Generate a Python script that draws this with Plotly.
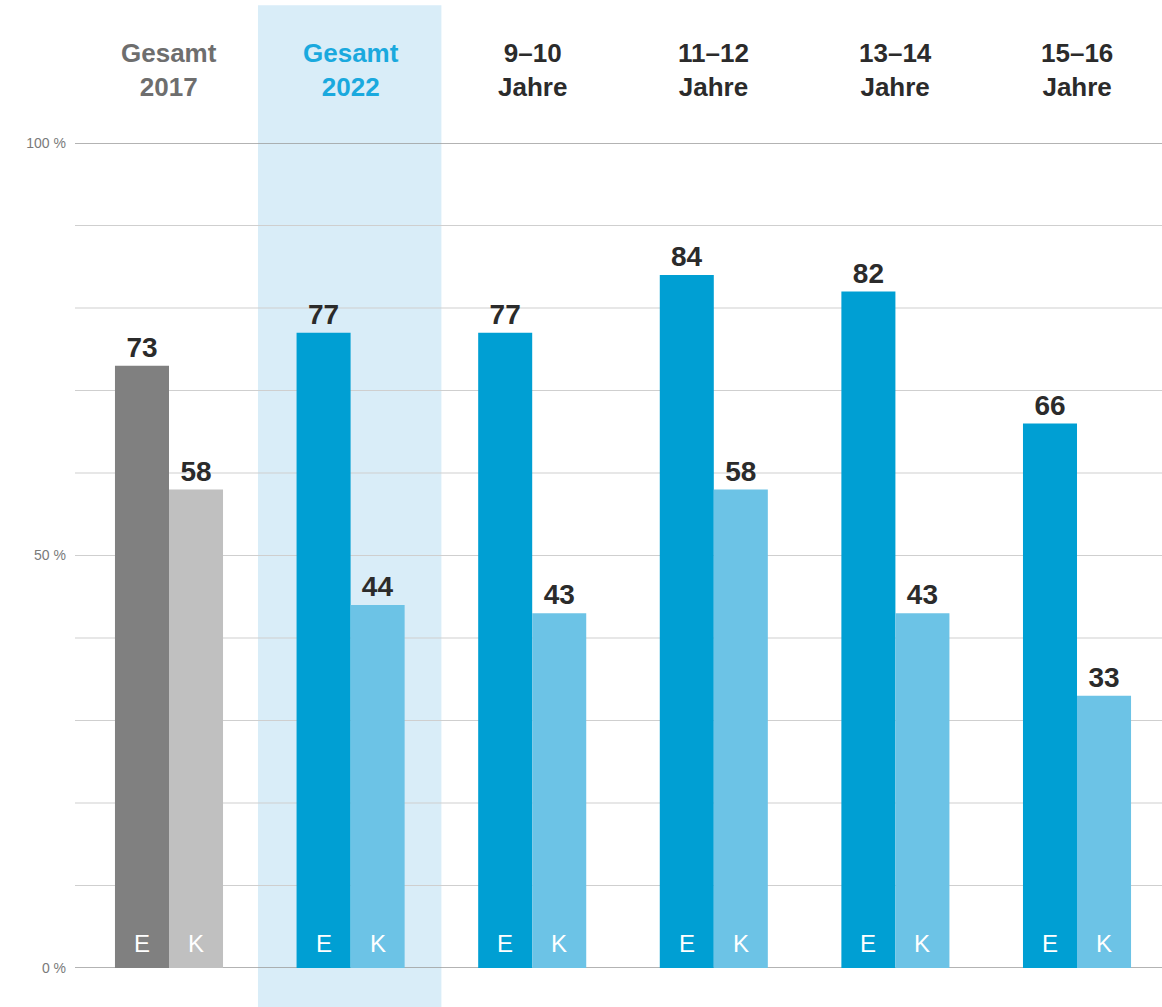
import plotly.graph_objects as go

groups = ["Gesamt<br>2017", "Gesamt<br>2022", "9–10<br>Jahre", "11–12<br>Jahre", "13–14<br>Jahre", "15–16<br>Jahre"]
e_values = [73, 77, 77, 84, 82, 66]
k_values = [58, 44, 43, 58, 43, 33]
e_colors = ["#808080", "#009fd3", "#009fd3", "#009fd3", "#009fd3", "#009fd3"]
k_colors = ["#c0c0c0", "#6cc3e6", "#6cc3e6", "#6cc3e6", "#6cc3e6", "#6cc3e6"]
label_colors = ["#6e6e6e", "#1aa9de", "#2b2b2b", "#2b2b2b", "#2b2b2b", "#2b2b2b"]
y_ticks = [0, 50, 100]
y_ticktext = ["0 %", "50 %", "100 %"]

x = list(range(len(groups)))
FONT = "Liberation Sans, Arial, sans-serif"

fig = go.Figure()
for vals, cols, nm in ((e_values, e_colors, "E"), (k_values, k_colors, "K")):
    fig.add_trace(go.Bar(
        x=x, y=vals, marker=dict(color=cols, line=dict(width=0)),
        text=[str(v) for v in vals], textposition="outside",
        textfont=dict(family=FONT, size=28, color="#2b2b2b", weight="bold"),
        cliponaxis=False, name=nm,
    ))

# highlight band behind 2022
fig.add_shape(type="rect", xref="x", yref="paper", x0=0.49, x1=1.5, y0=-0.06, y1=1.167,
              fillcolor="#d9edf8", line=dict(width=0), layer="below")

# gridlines
for v in range(10, 100, 10):
    fig.add_shape(type="line", xref="paper", yref="y", x0=0, x1=1, y0=v, y1=v,
                  line=dict(color="#cfcfcf", width=1), layer="below")
for v in (0, 100):
    fig.add_shape(type="line", xref="paper", yref="y", x0=0, x1=1, y0=v, y1=v,
                  line=dict(color="#9a9a9a", width=1.3), layer="below")

# group labels and E/K markers
for i, g in enumerate(groups):
    fig.add_annotation(x=i, y=1.088, xref="x", yref="paper", text=f"<b>{g}</b>",
                       showarrow=False, yanchor="middle",
                       font=dict(family=FONT, size=26, color=label_colors[i]))
    fig.add_annotation(x=i - 0.149, y=3.0, xref="x", yref="y", text="E", showarrow=False,
                       font=dict(family=FONT, size=24, color="white"))
    fig.add_annotation(x=i + 0.149, y=3.0, xref="x", yref="y", text="K", showarrow=False,
                       font=dict(family=FONT, size=24, color="white"))

fig.update_layout(
    width=1162, height=1007, autosize=False,
    margin=dict(l=75, r=0, t=143, b=39),
    paper_bgcolor="white", plot_bgcolor="rgba(0,0,0,0)",
    barmode="group", bargap=0.405, bargroupgap=0,
    showlegend=False,
    xaxis=dict(range=[-0.5176, 5.468], showticklabels=False, showgrid=False, zeroline=False),
    yaxis=dict(range=[0, 100], tickvals=y_ticks, ticktext=y_ticktext, showgrid=False,
               zeroline=False, ticks="", ticklabelstandoff=8,
               tickfont=dict(family=FONT, size=14, color="#7a7a7a")),
)

fig.write_html("out.html", config={"displayModeBar": False},
               post_script="document.body.style.margin='0';document.body.style.overflow='hidden';")
